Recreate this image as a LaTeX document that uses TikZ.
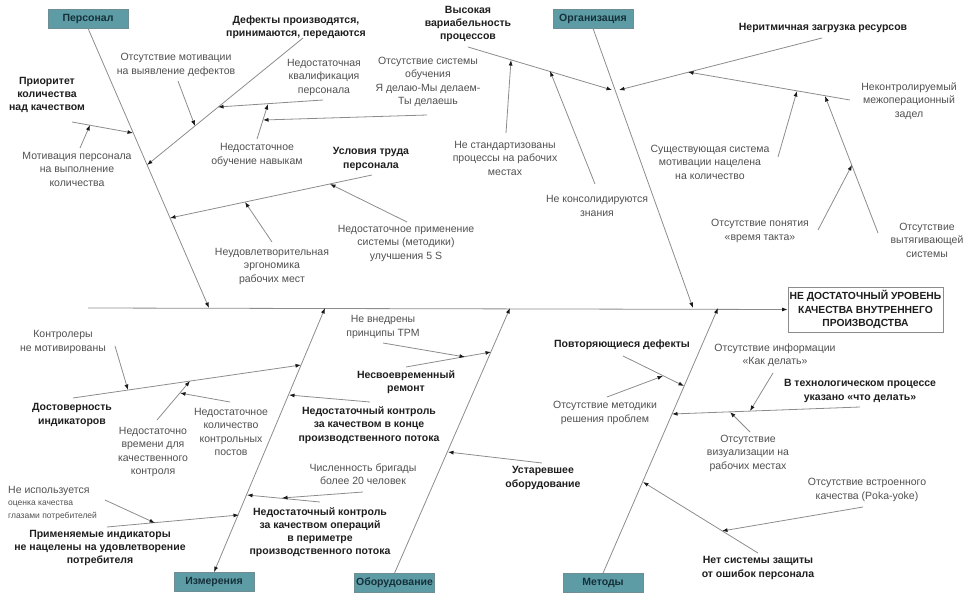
\documentclass[tikz,border=0pt]{standalone}
\usepackage{fontspec}
\setmainfont{Liberation Sans}
\usetikzlibrary{arrows.meta}
\definecolor{linegray}{HTML}{8C8C8C}
\definecolor{tipc}{HTML}{1A1A1A}
\definecolor{txtgray}{HTML}{505050}
\definecolor{txtdark}{HTML}{1E1E1E}
\definecolor{catfill}{HTML}{5E9CA5}
\definecolor{catdraw}{HTML}{6F8E94}
\definecolor{cattext}{HTML}{14303A}
\tikzset{
  bone/.style={draw=linegray, line width=0.8pt, -{Latex[length=5.5pt,width=4pt,color=tipc]}},
  twobone/.style={draw=linegray, line width=0.8pt, {Latex[length=5.5pt,width=4pt,color=tipc]}-{Latex[length=5.5pt,width=4pt,color=tipc]}},
  plainbone/.style={draw=linegray, line width=0.8pt},
  lbl/.style={align=center, text=txtgray, font=\fontsize{10.5}{13.5}\selectfont, inner sep=0pt},
  blbl/.style={align=center, text=txtdark, font=\bfseries\fontsize{10.5}{13.2}\selectfont, inner sep=0pt},
  catbox/.style={fill=catfill, draw=catdraw, line width=0.6pt, minimum width=80pt, minimum height=19pt, inner sep=0pt, text=cattext, font=\bfseries\fontsize{10.5}{12}\selectfont},
  effbox/.style={draw=linegray, line width=0.8pt, fill=white, minimum width=155pt, minimum height=45pt, inner sep=0pt, align=center, text=txtdark, font=\bfseries\fontsize{10.3}{13.5}\selectfont}
}
\begin{document}
\begin{tikzpicture}[x=1pt,y=-1pt]
\useasboundingbox (0,0) rectangle (974,602);
% ---------------- category boxes and effect
\node[catbox] (pers) at (88,18.5) {Персонал};
\node[catbox] (org) at (593,18.5) {Организация};
\node[catbox] (meas) at (214,582) {Измерения};
\node[catbox] (equip) at (394.5,583) {Оборудование};
\node[catbox] (meth) at (603,583) {Методы};
\node[effbox] (eff) at (865.5,309.5) {НЕ ДОСТАТОЧНЫЙ УРОВЕНЬ\\КАЧЕСТВА ВНУТРЕННЕГО\\ПРОИЗВОДСТВА};
% ---------------- spine
\coordinate (s0) at (88,308);
\draw[bone] (s0) -- (eff.west);
% ---------------- main bones
\coordinate (pend) at (209,308);
\coordinate (oend) at (693,308);
\coordinate (mend) at (325,308);
\coordinate (eend) at (510,308);
\coordinate (meend) at (718,308);
\draw[bone] (pers.south) -- (pend);
\draw[bone] (org.south) -- (oend);
\draw[twobone] (meas.north) -- (mend);
\draw[bone] (equip.north) -- (eend);
\draw[bone] (meth.north) -- (meend);

% ================= ПЕРСОНАЛ
\node[blbl] (pa) at (47,95) {Приоритет\\количества\\над качеством};
\node[lbl] (pa1) at (77,169) {Мотивация персонала\\на выполнение\\количества};
\coordinate (paS) at (72,122); \coordinate (paE) at (133,133);
\coordinate (pa1S) at (80,148); \coordinate (pa1E) at (90,125);
\draw[bone] (paS) -- (paE);
\draw[bone] (pa1S) -- (pa1E);

\node[blbl] (pb) at (296,27) {Дефекты производятся,\\принимаются, передаются};
\node[lbl] (pb1) at (176,65) {Отсутствие мотивации\\на выявление дефектов};
\node[lbl] (pb2) at (324,77) {Недостаточная\\квалификация\\персонала};
\node[lbl] (pb2a) at (257,155) {Недостаточное\\обучение навыкам};
\node[lbl] (pb2b) at (428,82) {Отсутствие системы\\обучения\\Я делаю-Мы делаем-\\Ты делаешь};
\coordinate (pbS) at (303,38); \coordinate (pbE) at (147,165);
\coordinate (pb1S) at (178,81); \coordinate (pb1E) at (195,126);
\coordinate (pb2S) at (323,100); \coordinate (pb2E) at (218,107);
\coordinate (pb2aS) at (257,139); \coordinate (pb2aE) at (268,104);
\coordinate (pb2bS) at (427,115); \coordinate (pb2bE) at (263,120);
\draw[bone] (pbS) -- (pbE);
\draw[bone] (pb1S) -- (pb1E);
\draw[bone] (pb2S) -- (pb2E);
\draw[bone] (pb2aS) -- (pb2aE);
\draw[bone] (pb2bS) -- (pb2bE);

\node[blbl] (pc) at (371,159) {Условия труда\\персонала};
\node[lbl] (pc1) at (406,243) {Недостаточное применение\\системы (методики)\\улучшения 5 S};
\node[lbl] (pc2) at (272,266) {Неудовлетворительная\\эргономика\\рабочих мест};
\coordinate (pcS) at (372,175); \coordinate (pcE) at (170,218);
\coordinate (pc1S) at (407,222); \coordinate (pc1E) at (330,184);
\coordinate (pc2S) at (272,242); \coordinate (pc2E) at (245,202);
\draw[bone] (pcS) -- (pcE);
\draw[bone] (pc1S) -- (pc1E);
\draw[bone] (pc2S) -- (pc2E);

% ================= ОРГАНИЗАЦИЯ
\node[blbl] (oa) at (468,24) {Высокая\\вариабельность\\процессов};
\node[lbl] (oa1) at (505,158) {Не стандартизованы\\процессы на рабочих\\местах};
\node[lbl] (oa2) at (597,206) {Не консолидируются\\знания};
\coordinate (oaS) at (468,47); \coordinate (oaE) at (612,90);
\coordinate (oa1S) at (506,133); \coordinate (oa1E) at (511,60);
\coordinate (oa2S) at (595,184); \coordinate (oa2E) at (550,71);
\draw[bone] (oaS) -- (oaE);
\draw[bone] (oa1S) -- (oa1E);
\draw[bone] (oa2S) -- (oa2E);

\node[blbl] (ob) at (823,28) {Неритмичная загрузка ресурсов};
\node[lbl] (ob1) at (909,101) {Неконтролируемый\\межоперационный\\задел};
\node[lbl] (ob1a) at (710,162) {Существующая система\\мотивации нацелена\\на количество};
\node[lbl] (ob1b) at (927,240) {Отсутствие\\вытягивающей\\системы};
\node[lbl] (ob1b1) at (760,231) {Отсутствие понятия\\«время такта»};
\coordinate (obS) at (822,38); \coordinate (obE) at (619,90);
\coordinate (ob1S) at (850,100); \coordinate (ob1E) at (688,72);
\coordinate (ob1aS) at (778,157); \coordinate (ob1aE) at (797,91);
\coordinate (ob1bS) at (878,233); \coordinate (ob1bE) at (825,96);
\coordinate (ob1b1S) at (818,230); \coordinate (ob1b1E) at (852,165);
\draw[bone] (obS) -- (obE);
\draw[bone] (ob1S) -- (ob1E);
\draw[bone] (ob1aS) -- (ob1aE);
\draw[bone] (ob1bS) -- (ob1bE);
\draw[bone] (ob1b1S) -- (ob1b1E);

% ================= ИЗМЕРЕНИЯ
\node[blbl] (ma) at (72,415) {Достоверность\\индикаторов};
\node[lbl] (ma1) at (63,342) {Контролеры\\не мотивированы};
\node[lbl] (ma2) at (153,452) {Недостаточно\\времени для\\качественного\\контроля};
\node[lbl] (ma2a) at (231,432) {Недостаточное\\количество\\контрольных\\постов};
\coordinate (maS) at (73,398); \coordinate (maE) at (301,365);
\coordinate (ma1S) at (115,346); \coordinate (ma1E) at (128,390);
\coordinate (ma2S) at (157,420); \coordinate (ma2E) at (190,381);
\coordinate (ma2aS) at (230,402); \coordinate (ma2aE) at (180,393);
\draw[bone] (maS) -- (maE);
\draw[bone] (ma1S) -- (ma1E);
\draw[bone] (ma2S) -- (ma2E);
\draw[bone] (ma2aS) -- (ma2aE);

\node[blbl] (mb) at (369,425) {Недостаточный контроль\\за качеством в конце\\производственного потока};
\coordinate (mbS) at (370,402); \coordinate (mbE) at (289,395);
\draw[bone] (mbS) -- (mbE);

\node[blbl] (mc) at (320,532) {Недостаточный контроль\\за качеством операций\\в периметре\\производственного потока};
\node[lbl] (mc1) at (363,474) {Численность бригады\\более 20 человек};
\coordinate (mcS) at (320,502); \coordinate (mcE) at (247,495);
\coordinate (mc1S) at (363,492); \coordinate (mc1E) at (282,498);
\draw[bone] (mcS) -- (mcE);
\draw[bone] (mc1S) -- (mc1E);

\node[blbl] (md) at (100,548) {Применяемые индикаторы\\не нацелены на удовлетворение\\потребителя};
\node[lbl, align=left, anchor=north west] (md1) at (8,486) {Не используется\\[-1pt]{\fontsize{8.5}{13.5}\selectfont оценка качества}\\[-1pt]{\fontsize{8.5}{13.5}\selectfont глазами потребителей}};
\coordinate (mdS) at (107,527); \coordinate (mdE) at (239,515);
\coordinate (md1S) at (105,500); \coordinate (md1E) at (155,523);
\draw[bone] (mdS) -- (mdE);
\draw[bone] (md1S) -- (md1E);

% ================= ОБОРУДОВАНИЕ
\node[blbl] (ea) at (406,382) {Несвоевременный\\ремонт};
\node[lbl] (ea1) at (383,327) {Не внедрены\\принципы TPM};
\coordinate (eaS) at (406,367); \coordinate (eaE) at (491,352);
\coordinate (ea1S) at (383,343); \coordinate (ea1E) at (465,357);
\draw[bone] (eaS) -- (eaE);
\draw[bone] (ea1S) -- (ea1E);

\node[blbl] (eb) at (543,478) {Устаревшее\\оборудование};
\coordinate (ebS) at (542,463); \coordinate (ebE) at (448,452);
\draw[bone] (ebS) -- (ebE);

% ================= МЕТОДЫ
\node[blbl] (mea) at (622,345) {Повторяющиеся дефекты};
\node[lbl] (mea1) at (605,413) {Отсутствие методики\\решения проблем};
\coordinate (meaS) at (623,356); \coordinate (meaE) at (684,386);
\coordinate (mea1S) at (607,397); \coordinate (mea1E) at (663,376);
\draw[bone] (meaS) -- (meaE);
\draw[bone] (mea1S) -- (mea1E);

\node[blbl] (meb) at (860,391) {В технологическом процессе\\указано «что делать»};
\node[lbl] (meb1) at (775,355) {Отсутствие информации\\«Как делать»};
\node[lbl] (meb2) at (748,453) {Отсутствие\\визуализации на\\рабочих местах};
\coordinate (mebS) at (860,407); \coordinate (mebE) at (672,414);
\coordinate (meb1S) at (773,373); \coordinate (meb1E) at (750,411);
\coordinate (meb2S) at (750,432); \coordinate (meb2E) at (730,412);
\draw[bone] (mebS) -- (mebE);
\draw[bone] (meb1S) -- (meb1E);
\draw[bone] (meb2S) -- (meb2E);

\node[blbl] (mec) at (758,568) {Нет системы защиты\\от ошибок персонала};
\node[lbl] (mec1) at (867,490) {Отсутствие встроенного\\качества (Poka-yoke)};
\coordinate (mecS) at (758,553); \coordinate (mecE) at (643,482);
\coordinate (mec1S) at (863,507); \coordinate (mec1E) at (722,531);
\draw[bone] (mecS) -- (mecE);
\draw[bone] (mec1S) -- (mec1E);
\end{tikzpicture}
\end{document}
